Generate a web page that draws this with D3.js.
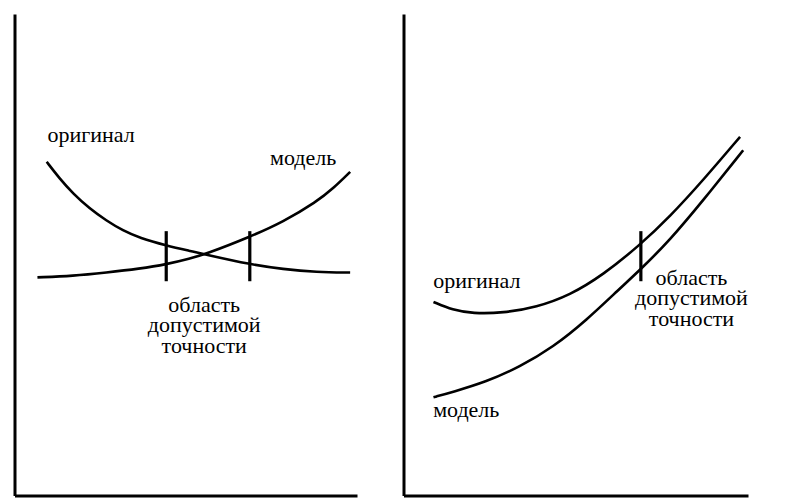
<!DOCTYPE html>
<html>
<head>
<meta charset="utf-8">
<script src="https://cdn.jsdelivr.net/npm/d3@7"></script>
<style>
  html, body { margin: 0; padding: 0; background: #fff; }
  svg { display: block; }
</style>
</head>
<body>
<svg id="chart" width="790" height="501"></svg>
<script>
// ---- data (abstract units: x 0..100 along the axis, y 0..100 up the axis) ----
const leftOriginalX = [9.4, 13.2, 17.1, 21.9, 26.8, 31.7, 36.5, 44.4, 51.2, 56.1, 68.7, 78.4, 88.2, 98.0];
const leftOriginalY = [69.3, 65.8, 62.7, 59.6, 57.1, 55.0, 53.5, 51.9, 50.8, 50.0, 48.0, 47.0, 46.4, 46.3];
const leftModelX = [6.7, 17.1, 26.8, 36.5, 44.4, 51.2, 56.1, 68.7, 78.4, 88.2, 93.1, 98.0];
const leftModelY = [45.3, 45.6, 46.3, 47.1, 48.0, 49.2, 50.2, 53.7, 56.8, 61.0, 63.8, 67.2];
const leftMarkers = [44.3, 68.7];

const rightOriginalX = [8.7, 14.3, 20.1, 28.9, 38.6, 48.3, 57.9, 68.6, 77.3, 87.0, 97.7];
const rightOriginalY = [40.2, 38.5, 37.8, 37.9, 39.1, 41.6, 45.8, 52.0, 57.9, 65.5, 74.5];
const rightModelX = [8.7, 14.3, 24.0, 33.7, 43.4, 53.1, 62.8, 68.6, 77.3, 87.0, 98.6];
const rightModelY = [20.4, 21.5, 23.6, 26.7, 30.8, 36.4, 43.0, 46.8, 53.0, 61.3, 71.7];
const rightMarkers = [68.9];

const markerSpan = [44.5, 54.9];

const labelOriginal = "оригинал";
const labelModel = "модель";
const labelRegion = ["область", "допустимой", "точности"];

// ---- drawing ----
const FONT = "Liberation Serif, Tinos, Noto Serif, DejaVu Serif, FreeSerif, Nimbus Roman, Times New Roman, Times, serif";
const svg = d3.select("#chart");

function panel(cfg) {
  const x = d3.scaleLinear().domain([0, 100]).range(cfg.xRange);
  const y = d3.scaleLinear().domain([0, 100]).range([495.5, 14]);
  const g = svg.append("g");

  // axes
  const ax = g.append("g").attr("transform", `translate(${cfg.xRange[0]},0)`)
    .call(d3.axisLeft(y).ticks(0).tickSizeOuter(0));
  const bx = g.append("g").attr("transform", `translate(0,${y(0)})`)
    .call(d3.axisBottom(x).ticks(0).tickSizeOuter(0));
  [ax, bx].forEach(a => a.select(".domain").attr("stroke", "#000").attr("stroke-width", 3));

  const line = d3.line().x(d => x(d[0])).y(d => y(d[1])).curve(d3.curveBasis);
  const curves = [
    d3.zip(cfg.origX, cfg.origY),
    d3.zip(cfg.modX, cfg.modY)
  ];
  g.selectAll("path.curve").data(curves).join("path")
    .attr("class", "curve")
    .attr("d", line)
    .attr("fill", "none")
    .attr("stroke", "#000")
    .attr("stroke-width", 2.6);

  g.selectAll("line.marker").data(cfg.markers).join("line")
    .attr("class", "marker")
    .attr("x1", d => x(d)).attr("x2", d => x(d))
    .attr("y1", y(markerSpan[1])).attr("y2", y(markerSpan[0]))
    .attr("stroke", "#000").attr("stroke-width", 3.2);

  const txt = sel => sel.style("font-family", FONT).style("font-size", "22px").attr("fill", "#000");

  g.append("text").call(txt).attr("x", x(cfg.origLabel[0])).attr("y", y(cfg.origLabel[1])).text(labelOriginal);
  g.append("text").call(txt).attr("x", x(cfg.modLabel[0])).attr("y", y(cfg.modLabel[1])).text(labelModel);

  const t = g.append("text").call(txt).attr("text-anchor", "middle");
  t.selectAll("tspan").data(labelRegion).join("tspan")
    .attr("x", x(cfg.regionLabel[0]))
    .attr("y", (d, i) => y(cfg.regionLabel[1]) + i * cfg.lineStep)
    .text(d => d);
}

panel({
  xRange: [14.5, 357],
  origX: leftOriginalX, origY: leftOriginalY,
  modX: leftModelX, modY: leftModelY,
  markers: leftMarkers,
  origLabel: [9.6, 73.4],
  modLabel: [74.6, 68.6],
  regionLabel: [55.4, 38.1],
  lineStep: 20.4
});

panel({
  xRange: [403.5, 748],
  origX: rightOriginalX, origY: rightOriginalY,
  modX: rightModelX, modY: rightModelY,
  markers: rightMarkers,
  origLabel: [8.6, 43.0],
  modLabel: [8.6, 16.3],
  regionLabel: [83.6, 43.8],
  lineStep: 20.5
});
</script>
</body>
</html>
